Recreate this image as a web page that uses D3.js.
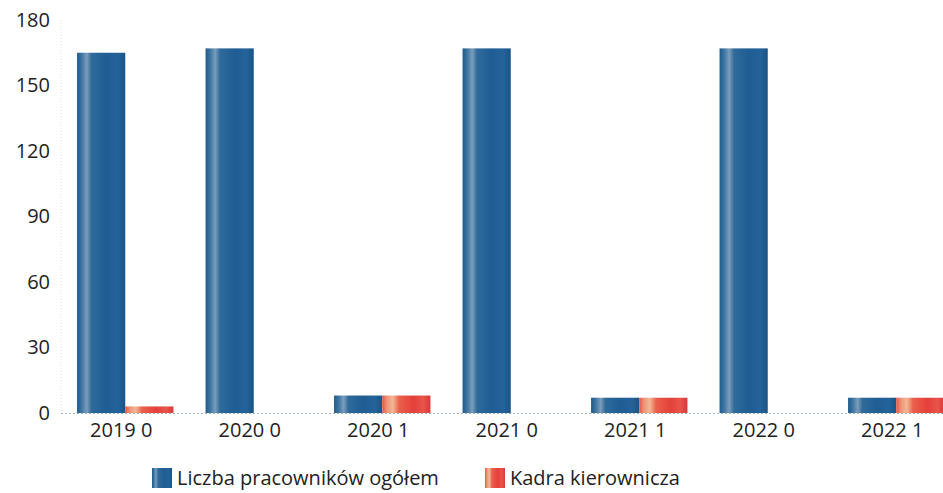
<!DOCTYPE html>
<html><head><meta charset="utf-8">
<script src="https://cdn.jsdelivr.net/npm/d3@7"></script>
<style>html,body{margin:0;padding:0;background:#fff;overflow:hidden}svg{display:block}</style>
</head><body>
<script>
const categories = ["2019 0","2020 0","2020 1","2021 0","2021 1","2022 0","2022 1"];
const seriesNames = ["Liczba pracowników ogółem","Kadra kierownicza"];
const totalValues = [165, 167, 8, 167, 7, 167, 7];
const managerValues = [3, 0, 8, 0, 7, 0, 7];
const yTicks = [0, 30, 60, 90, 120, 150, 180];

const W = 943, H = 493;
const FONT = "'Open Sans', sans-serif";
const svg = d3.select("body").append("svg").attr("width", W).attr("height", H);
const defs = svg.append("defs");
function grad(id, stops){
  const g = defs.append("linearGradient").attr("id", id).attr("x1","0%").attr("x2","100%").attr("y1","0%").attr("y2","0%");
  stops.forEach(s => g.append("stop").attr("offset", s[0]).attr("stop-color", s[1]));
}
grad("gBlue", [["0%","#1d5a8c"],["10%","#3f77a3"],["20%","#7c9dba"],["30%","#2f6a9a"],["60%","#1f5d93"],["85%","#24629a"],["100%","#1a5485"]]);
grad("gRed", [["0%","#e4564a"],["10%","#ef9677"],["22%","#f3b795"],["35%","#ea5f4c"],["65%","#e4403a"],["85%","#e8554a"],["100%","#d9383a"]]);

const x0 = d3.scaleBand().domain(categories).range([61, 61 + 128.5*7]).paddingInner(0.25).paddingOuter(0.125);
const x1 = d3.scaleBand().domain(seriesNames).range([0, x0.bandwidth()]);
const y = d3.scaleLinear().domain([0, 180]).range([413, 20]);

// faint axis lines
svg.append("line").attr("x1", 61).attr("x2", 61).attr("y1", 20).attr("y2", 413)
  .attr("stroke", "#d8dde4").attr("stroke-dasharray", "1,2");
svg.append("line").attr("x1", 61).attr("x2", W).attr("y1", y(0)+0.5).attr("y2", y(0)+0.5)
  .attr("stroke", "#9fb3c8").attr("stroke-dasharray", "2,2");

const data = categories.map((c,i) => ({c, vals:[{s:seriesNames[0], v: totalValues[i]},{s:seriesNames[1], v: managerValues[i]}]}));
const g = svg.append("g");
g.selectAll("g.grp").data(data).join("g").attr("class","grp")
  .attr("transform", d => `translate(${x0(d.c)},0)`)
  .selectAll("rect").data(d => d.vals.filter(v => v.v > 0)).join("rect")
  .attr("x", d => x1(d.s)).attr("width", x1.bandwidth())
  .attr("y", d => y(d.v)).attr("height", d => y(0) - y(d.v))
  .attr("fill", d => d.s === seriesNames[0] ? "url(#gBlue)" : "url(#gRed)");

// y axis labels
const yAxis = d3.axisLeft(y).tickValues(yTicks).tickSize(0).tickPadding(0);
const ya = svg.append("g").attr("transform", "translate(50,0)").call(yAxis);
ya.select(".domain").remove();
ya.selectAll("text").attr("font-family", FONT).attr("font-size", 20).attr("fill", "#222");

// x axis labels
const xAxis = d3.axisBottom(x0).tickSize(0).tickPadding(0);
const xa = svg.append("g").attr("transform", "translate(-4,423)").call(xAxis);
xa.select(".domain").remove();
xa.selectAll("text").attr("font-family", FONT).attr("font-size", 20).attr("fill", "#222");

// legend
const leg = svg.append("g");
const legItems = [{n: seriesNames[0], x: 152, f: "url(#gBlue)"}, {n: seriesNames[1], x: 485, f: "url(#gRed)"}];
legItems.forEach(it => {
  leg.append("rect").attr("x", it.x).attr("y", 468).attr("width", 20).attr("height", 20).attr("fill", it.f);
  leg.append("text").attr("x", it.x + 25).attr("y", 485).text(it.n)
    .attr("font-family", FONT).attr("font-size", 20).attr("fill", "#222");
});
</script>
</body></html>
